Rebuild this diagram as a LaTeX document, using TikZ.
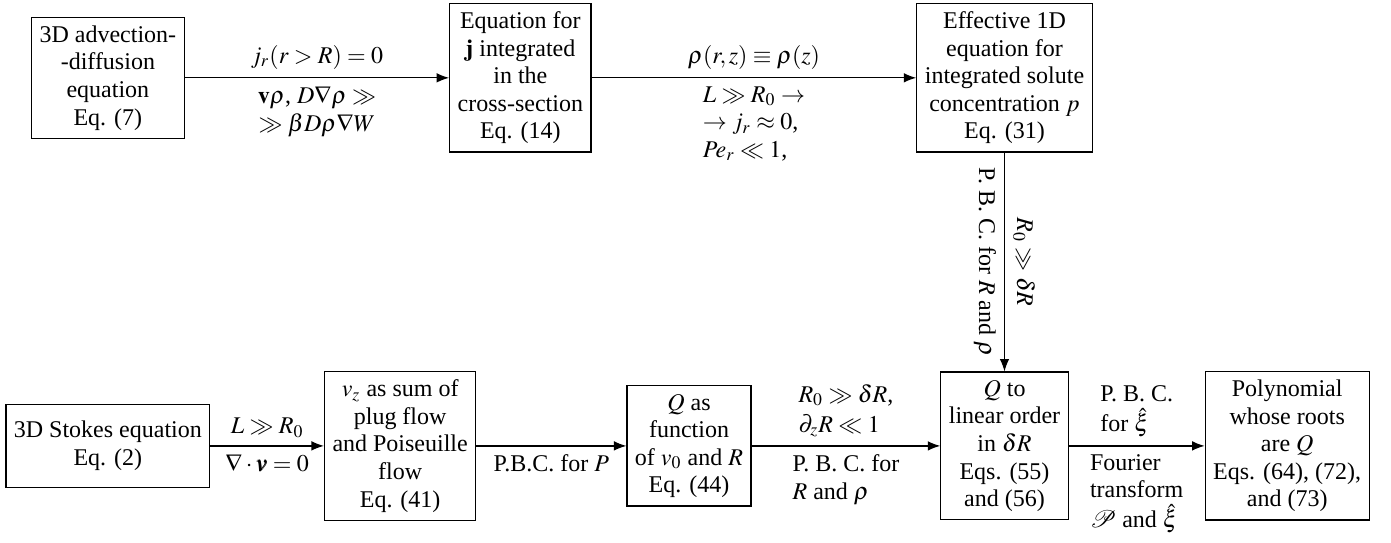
\documentclass[tikz,border=0pt]{standalone}
\usepackage{mathptmx}
\usepackage{fontspec}
\setmainfont{Liberation Serif}
\usepackage{bm}
\usepackage{mathrsfs}
\usetikzlibrary{arrows.meta}
\begin{document}
\begin{tikzpicture}[x=1cm,y=1cm,>={Latex[length=5.2pt,width=4pt]},line width=.5pt,
    font=\fontsize{10}{11.5}\selectfont,
    box/.style={draw,align=center},
    lab/.style={midway,align=center},
    labl/.style={midway,align=left}]
  \useasboundingbox (0,0) rectangle (20.37,7.94);
  % top row
  \node[box] (adv) at (1.58,6.80) {3D advection-\\-diffusion\\equation\\Eq. (7)};
  \node[box] (jint) at (7.62,6.80) {Equation for\\$\mathbf{j}$ integrated\\in the\\cross-section\\Eq. (14)};
  \node[box] (eff) at (14.71,6.80) {Effective 1D\\equation for\\integrated solute\\concentration $p$\\Eq. (31)};
  % bottom row
  \node[box,minimum height=34.6pt] (stokes) at (1.58,1.41) {3D Stokes equation\\Eq. (2)};
  \node[box] (vz) at (5.86,1.41) {$v_z$ as sum of\\plug flow\\and Poiseuille\\flow\\Eq. (41)};
  \node[box] (qfun) at (10.09,1.41) {$Q$ as\\function\\of $v_0$ and $R$\\Eq. (44)};
  \node[box] (qlin) at (14.71,1.41) {$Q$ to\\linear order\\in $\delta R$\\Eqs. (55)\\and (56)};
  \node[box] (poly) at (18.85,1.41) {Polynomial\\whose roots\\are $Q$\\Eqs. (64), (72),\\and (73)};
  % connectors
  \draw[->] (adv) -- (jint)
    node[lab,above] {$j_r(r>R)=0$}
    node[lab,below] {$\mathbf{v}\rho$, $D\nabla\rho\gg$\\$\gg\beta D\rho\nabla W$};
  \draw[->] (jint) -- (eff)
    node[lab,above] {$\rho(r,z)\equiv\rho(z)$}
    node[labl,below] {$L\gg R_0\to$\\$\to j_r\approx 0$,\\$Pe_r\ll 1$,};
  \draw[->] (eff) -- (qlin)
    node[lab,sloped,below] {P. B. C. for $R$ and $\rho$}
    node[lab,sloped,above] {$R_0\gg\delta R$};
  \draw[->] (stokes) -- (vz)
    node[lab,above] {$L\gg R_0$}
    node[lab,below] {$\nabla\cdot\bm{v}=0$};
  \draw[->] (vz) -- (qfun)
    node[lab,below] {P.B.C. for $P$};
  \draw[->] (qfun) -- (qlin)
    node[labl,above] {$R_0\gg\delta R$,\\[1pt]$\partial_z R\ll 1$}
    node[labl,below] {P. B. C. for\\$R$ and $\rho$};
  \draw[->] (qlin) -- (poly)
    node[labl,above] {P. B. C.\\[1pt]for $\hat{\xi}$}
    node[labl,below] {Fourier\\transform\\[1pt]$\mathscr{P}$ and $\hat{\xi}$};
\end{tikzpicture}
\end{document}
